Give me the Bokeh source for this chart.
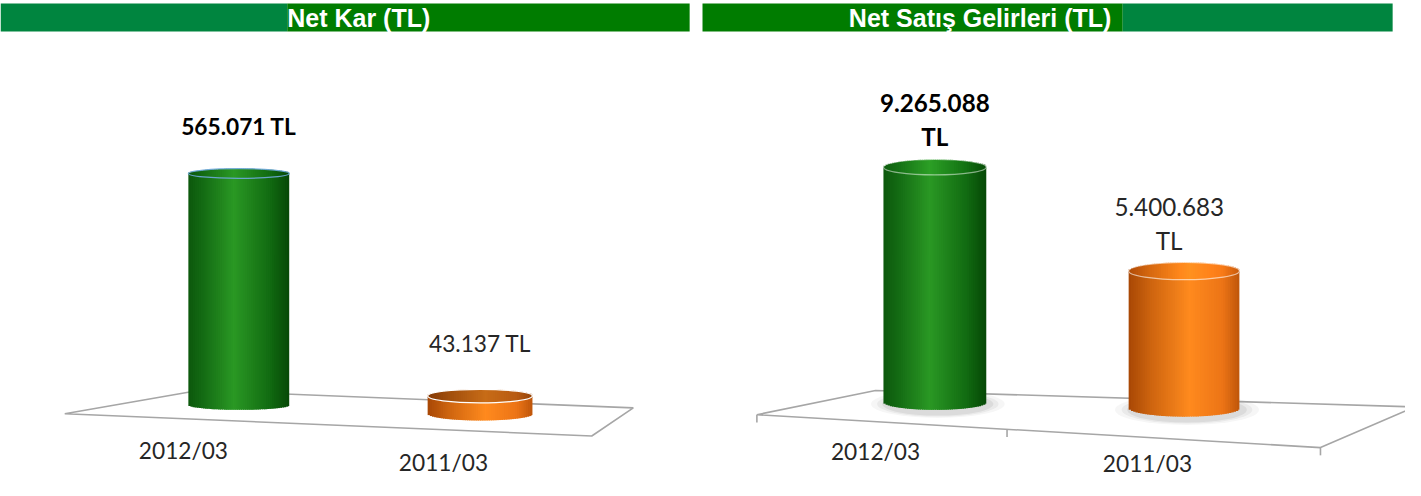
import math
from bokeh.plotting import figure
from bokeh.models import Range1d, ColumnDataSource
from bokeh.embed import file_html
from bokeh.resources import INLINE
from bokeh.core.properties import value

# ---------------- data ----------------
categories = ["2012/03", "2011/03"]
net_kar = [565071, 43137]
net_satis = [9265088, 5400683]
panel_titles = ["Net Kar (TL)", "Net Satış Gelirleri (TL)"]

# ---------------- layout / style ----------------
W, H = 1405, 480          # figure size on the page
RW, RH = 1421, 496        # reference canvas units used for layout
SY = H / RH               # screen px per layout unit (vertical)

GREEN_STOPS = [(0.0, (12, 88, 12)), (0.15, (20, 108, 20)), (0.45, (42, 152, 36)),
               (0.8, (18, 108, 18)), (1.0, (6, 72, 6))]
ORANGE_STOPS = [(0.0, (168, 72, 6)), (0.2, (205, 100, 15)), (0.55, (255, 138, 30)),
                (0.85, (236, 116, 22)), (1.0, (190, 86, 10))]
BAR_STOPS = [GREEN_STOPS, ORANGE_STOPS]

panels = [
    dict(values=net_kar, title=panel_titles[0], axis_max=600000, axis_px=254, base0=418,
         centers=[241, 485], widths=[102, 106], bases=[418, 427], caps=[5, 7],
         cap_shade=[1.0, 0.78], cap_line=["#6FA8DC", "#FFFFFF"], cap_line_alpha=[0.9, 1.0],
         shadow=False, two_line=False, label_dx=[0, 0], label_dy=[-49, -54], label_size=23.5,
         cat_x=[185, 448], cat_y=[465, 477],
         header=[(0, 290, "#00853F"), (290, 697, "#007C00")], title_x=290,
         floor=[(65, 427), (200, 403), (640, 421), (598, 450)], ticks=[]),
    dict(values=net_satis, title=panel_titles[1], axis_max=10000000, axis_px=262, base0=415,
         centers=[945, 1197], widths=[104, 112], bases=[415, 421], caps=[8, 9],
         cap_shade=[1.05, 1.05], cap_line=["#FFFFFF", "#FFFFFF"], cap_line_alpha=[0.5, 0.6],
         shadow=True, two_line=True, label_dx=[0, -15], label_dy=[-66, -66], label_size=25,
         cat_x=[885, 1160], cat_y=[466, 478],
         header=[(710, 1135, "#007C00"), (1135, 1408, "#00853F")], title_x=858,
         floor=[(765, 428), (885, 403), (1430, 420), (1335, 462)],
         ticks=[(765, 428), (1018, 443), (1335, 462)]),
]


def grad(stops, t, shade=1.0):
    for (t0, c0), (t1, c1) in zip(stops[:-1], stops[1:]):
        if t0 <= t <= t1:
            f = (t - t0) / (t1 - t0) if t1 > t0 else 0
            c = [min(255, int(round((a + (b - a) * f) * shade))) for a, b in zip(c0, c1)]
            return "#%02x%02x%02x" % tuple(c)
    c = [min(255, int(round(a * shade))) for a in stops[-1][1]]
    return "#%02x%02x%02x" % tuple(c)


p = figure(width=W, height=H, x_range=Range1d(0, RW), y_range=Range1d(RH, 0),
           output_backend="svg", toolbar_location=None, min_border=0)
p.xaxis.visible = False
p.yaxis.visible = False
p.xgrid.visible = False
p.ygrid.visible = False
p.outline_line_color = None
p.background_fill_color = "white"
p.border_fill_color = "white"

NSTRIP = 48

for k, pan in enumerate(panels):
    rname = "v%d" % k
    upx = pan["axis_max"] / pan["axis_px"]  # value units per layout pixel
    b0 = pan["base0"]
    p.extra_y_ranges[rname] = Range1d(start=(b0 - RH) * upx, end=b0 * upx)

    # header
    for (xa, xb, col) in pan["header"]:
        p.quad(left=xa, right=xb, bottom=32, top=3, fill_color=col, line_color=None)
    p.text(x=[pan["title_x"]], y=[18], text=[pan["title"]], text_color="white",
           text_font=value("Liberation Sans"), text_font_style="bold", text_font_size="25px",
           text_align="left", text_baseline="middle")

    # floor
    fx = [pt[0] for pt in pan["floor"]]
    fy = [pt[1] for pt in pan["floor"]]
    p.patch(fx, fy, fill_alpha=0, line_color="#A6A6A6", line_width=1.6)
    if pan["ticks"]:
        p.segment(x0=[t[0] for t in pan["ticks"]], y0=[t[1] for t in pan["ticks"]],
                  x1=[t[0] for t in pan["ticks"]], y1=[t[1] + 8 for t in pan["ticks"]],
                  line_color="#A6A6A6", line_width=1.6)

    # bars (cylinders)
    for i, v in enumerate(pan["values"]):
        cx, w, cap = pan["centers"][i], pan["widths"][i], pan["caps"][i]
        base_v = (b0 - pan["bases"][i]) * upx
        top_v = base_v + v
        stops = BAR_STOPS[i]
        if pan["shadow"]:
            for sc, al in [(1.3, 0.07), (1.18, 0.10), (1.08, 0.14)]:
                p.ellipse(x=[cx + 3], y=[base_v - 2 * upx], width=[w * sc],
                          height=[(2 * cap + 6) * sc * upx],
                          fill_color="#808080", fill_alpha=al, line_color=None,
                          y_range_name=rname)
        body = dict(left=[], right=[], bottom=[], top=[], color=[])
        capd = dict(left=[], right=[], bottom=[], top=[], color=[])
        sw = w / NSTRIP
        for j in range(NSTRIP):
            xl = cx - w / 2 + j * sw
            t = (j + 0.5) / NSTRIP
            um = 2 * t - 1
            e = math.sqrt(max(0.0, 1 - um * um))
            xr = xl + sw + (1.2 if j < NSTRIP - 1 else 0)
            body["left"].append(xl)
            body["right"].append(xr)
            body["bottom"].append(base_v - cap * e * upx)
            body["top"].append(top_v)
            body["color"].append(grad(stops, t))
            capd["left"].append(xl)
            capd["right"].append(xr)
            capd["bottom"].append(top_v - cap * e * upx)
            capd["top"].append(top_v + cap * e * upx)
            capd["color"].append(grad(stops, t, pan["cap_shade"][i]))
        p.quad(left="left", right="right", bottom="bottom", top="top", fill_color="color",
               line_color=None, source=ColumnDataSource(body), y_range_name=rname)
        p.quad(left="left", right="right", bottom="bottom", top="top", fill_color="color",
               line_color=None, source=ColumnDataSource(capd), y_range_name=rname)
        p.ellipse(x=[cx], y=[top_v], width=[w], height=[2 * cap * upx],
                  fill_alpha=0, line_color=pan["cap_line"][i], line_alpha=pan["cap_line_alpha"][i],
                  line_width=1.2, y_range_name=rname)

        # value label
        num = f"{v:,}".replace(",", ".")
        bold = (i == 0)
        lab_style = dict(text_font=value("Lato"), text_font_size="%.1fpx" % (pan["label_size"] * SY),
                         text_font_style="bold" if bold else "normal",
                         text_color="#000000" if bold else "#262626",
                         text_align="center", text_baseline="middle", y_range_name=rname)
        lx = cx + pan["label_dx"][i]
        dy = pan["label_dy"][i] * SY
        if pan["two_line"]:
            p.text(x=[lx], y=[top_v], text=[num], y_offset=dy, **lab_style)
            p.text(x=[lx], y=[top_v], text=["TL"], y_offset=dy + 34 * SY, **lab_style)
        else:
            p.text(x=[lx], y=[top_v], text=[num + " TL"], y_offset=dy, **lab_style)

    # category labels
    p.text(x=pan["cat_x"], y=pan["cat_y"], text=categories, text_font=value("Lato"),
           text_font_size="%.1fpx" % (23.5 * SY), text_color="#262626", text_align="center",
           text_baseline="middle")

open("out.html", "w").write(file_html(p, INLINE))
